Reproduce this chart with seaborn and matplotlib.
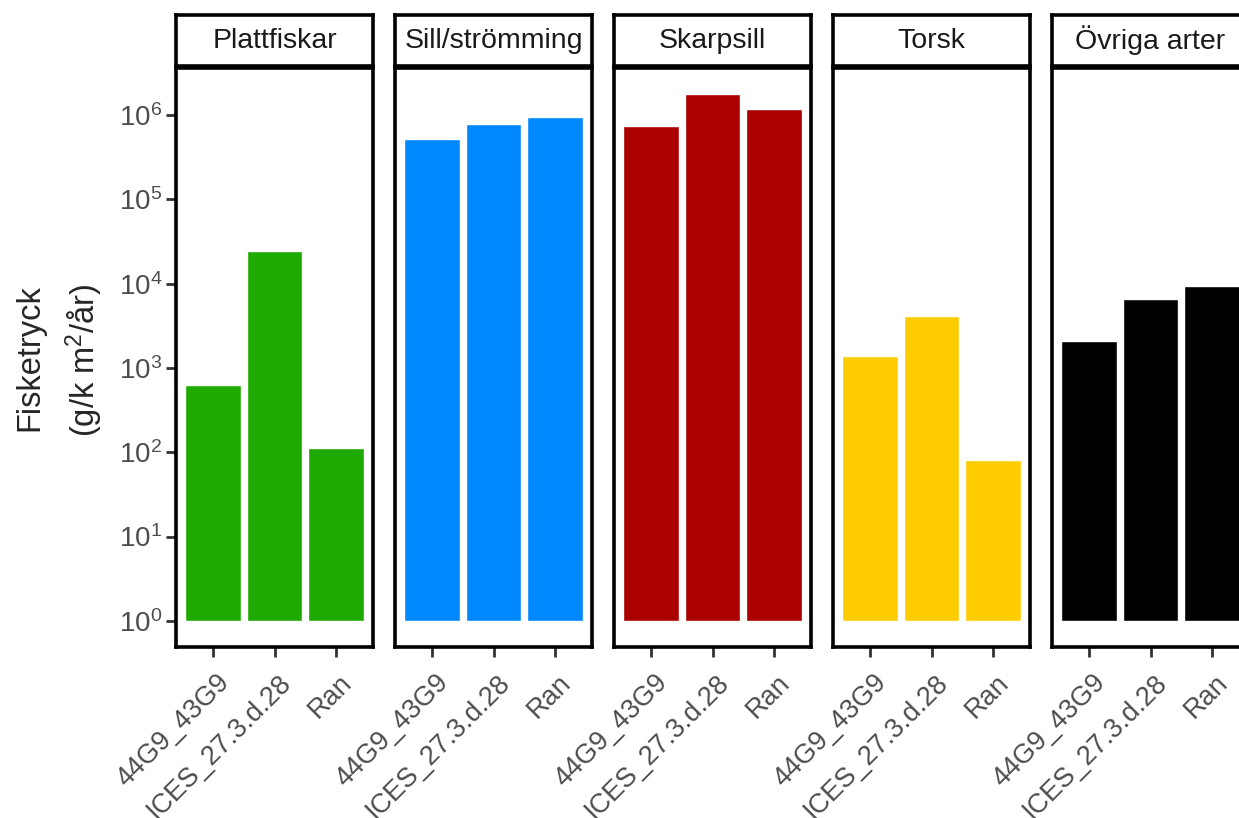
import numpy as np
import pandas as pd
import matplotlib
matplotlib.use("Agg")
import matplotlib.pyplot as plt
import matplotlib.transforms as mtrans
import seaborn as sns

# data (g/k m2/år)
arter = ["Plattfiskar", "Sill/strömming", "Skarpsill", "Torsk", "Övriga arter"]
omraden = ["44G9_43G9", "ICES_27.3.d.28", "Ran"]
farger = ["#1FAA00", "#0088FF", "#AA0000", "#FFCC00", "#000000"]

plattfiskar = [630, 24600, 113]
sill = [515000, 780000, 942000]
skarpsill = [737000, 1770000, 1200000]
torsk = [1400, 4200, 82]
ovriga = [2100, 6650, 9500]

varden = [plattfiskar, sill, skarpsill, torsk, ovriga]
rows = []
for art, v in zip(arter, varden):
    for omr, val in zip(omraden, v):
        rows.append({"Art": art, "Område": omr, "Fisketryck": val})
df = pd.DataFrame(rows)
df["log10"] = np.log10(df["Fisketryck"])

sns.set_theme(style="white")
plt.rcParams["font.family"] = ["Liberation Sans", "DejaVu Sans"]
plt.rcParams["mathtext.fontset"] = "custom"
plt.rcParams["mathtext.rm"] = "Liberation Sans"

W, H = 1239, 818
fig = plt.figure(figsize=(W / 100, H / 100), dpi=100)


def px_axes(x, y, w, h):
    return fig.add_axes([x / W, 1 - (y + h) / H, w / W, h / H])


grå = "#4D4D4D"
# ggplot-style hjust/vjust for the rotated labels: small nudge right and down
skift = mtrans.ScaledTranslation(3 / 100, -3 / 100, fig.dpi_scale_trans)

for i, (art, farg) in enumerate(zip(arter, farger)):
    x0 = 176 + i * 219
    ax = px_axes(x0, 68, 197, 579)
    sub = df[df["Art"] == art]
    sns.barplot(data=sub, x="Område", y="log10", order=omraden, color=farg,
                saturation=1, width=0.9, ax=ax)
    ax.set_xlim(-0.6, 2.6)
    ax.set_ylim(-0.31, 6.56)
    ax.set_xlabel("")
    ax.set_ylabel("")
    ax.set_yticks(range(7))
    ax.set_yticklabels([r"$\mathregular{10^{%d}}$" % k for k in range(7)])
    ax.set_xticks(range(3))
    ax.set_xticklabels(omraden, rotation=45, ha="right", rotation_mode="anchor")
    ax.tick_params(axis="both", length=7, width=2, color="#333333",
                   labelcolor=grå, labelsize=20, pad=3)
    ax.tick_params(axis="x", bottom=True, labelsize=19.5, pad=7)
    ax.tick_params(axis="y", left=True)
    for lab in ax.get_xticklabels():
        lab.set_transform(lab.get_transform() + skift)
    if i > 0:
        ax.tick_params(axis="y", left=False, labelleft=False)
    for s in ax.spines.values():
        s.set_color("black")
        s.set_linewidth(2.6)

    # facet strip
    sax = px_axes(x0, 15, 197, 51)
    sax.set_xticks([])
    sax.set_yticks([])
    for s in sax.spines.values():
        s.set_color("black")
        s.set_linewidth(2.6)
    sax.text(0.5, 0.5, art, ha="center", va="center", fontsize=20.5,
             color="#1A1A1A", transform=sax.transAxes)

fig.text(30 / W, 1 - 358 / H, "Fisketryck", rotation=90, ha="center",
         va="center", fontsize=23.5)
fig.text(84 / W, 1 - 360 / H, r"(g/k m$\mathregular{^2}$/år)", rotation=90,
         ha="center", va="center", fontsize=23.5)

fig.savefig("out.png", dpi=100)
